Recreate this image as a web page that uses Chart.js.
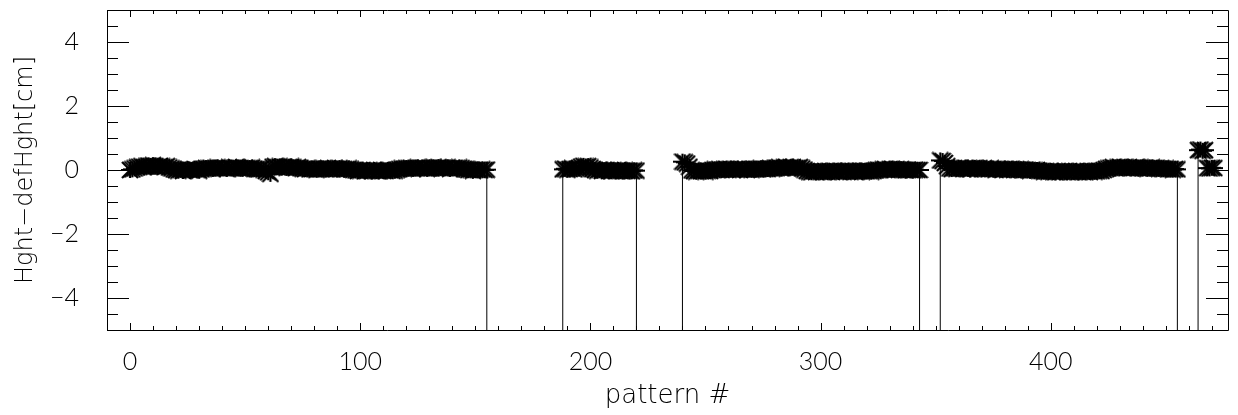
<!DOCTYPE html>
<html>
<head>
<meta charset="utf-8">
<script src="https://cdn.jsdelivr.net/npm/chart.js@4.4.1/dist/chart.umd.min.js"></script>
<style>
  html, body { margin: 0; padding: 0; background: #fff; }
</style>
</head>
<body>
<canvas id="hghtChart" width="1238" height="415" style="width:1238px;height:415px"></canvas>
<script>
// x / y ranges and tick labels
const xRange = [-10, 477];
const yRange = [-5, 5];
const xTickLabels = [0, 100, 200, 300, 400];
const yTickLabels = [-4, -2, 0, 2, 4];
const xMinorStep = 10;
const yMinorStep = 0.5;

const missingVal = -999; // flagged patterns, drawn off the bottom of the plot

// first pattern # of every measured run
const segStarts = [0, 188, 240, 352, 464];

// Hght-defHght [cm] for each run
const seg1 = [
  0.00, 0.02, 0.05, 0.08, 0.10, 0.12, 0.09, 0.11, 0.14, 0.13,
  0.15, 0.12, 0.10, 0.13, 0.11, 0.09, 0.12, 0.08, 0.05, 0.02,
  0.00, -0.02, 0.01, -0.03, 0.00, 0.02, -0.01, 0.00, 0.03, 0.01,
  -0.02, 0.02, 0.04, 0.06, 0.05, 0.07, 0.04, 0.06, 0.08, 0.05,
  0.07, 0.06, 0.04, 0.08, 0.06, 0.05, 0.09, 0.07, 0.06, 0.04,
  0.07, 0.05, 0.06, 0.08, 0.04, 0.03, 0.02, 0.04, 0.01, -0.03,
  -0.07, -0.12, 0.10, 0.12, 0.09, 0.11, 0.08, 0.10, 0.07, 0.09,
  0.11, 0.08, 0.06, 0.09, 0.07, 0.04, 0.03, 0.05, 0.02, 0.04,
  0.03, 0.01, 0.04, 0.02, 0.05, 0.03, 0.06, 0.04, 0.02, 0.05,
  0.03, 0.06, 0.04, 0.02, 0.03, 0.05, 0.02, 0.00, -0.01, -0.03,
  -0.02, 0.00, -0.04, -0.02, -0.01, -0.03, 0.00, -0.02, -0.04, -0.01,
  -0.03, -0.02, 0.00, -0.01, -0.03, -0.02, 0.01, 0.03, 0.05, 0.04,
  0.06, 0.05, 0.07, 0.04, 0.06, 0.08, 0.05, 0.07, 0.06, 0.04,
  0.07, 0.05, 0.08, 0.06, 0.09, 0.07, 0.05, 0.06, 0.08, 0.04,
  0.06, 0.07, 0.05, 0.08, 0.06, 0.04, 0.02, 0.00, 0.01, -0.02,
  0.00, 0.01, -0.01, 0.02, 0.00, 0.01
];
const seg2 = [
  0.02, 0.04, 0.01, 0.03, 0.05, 0.02, 0.04, 0.06, 0.10, 0.13,
  0.11, 0.12, 0.08, 0.03, 0.00, -0.02, 0.01, -0.03, -0.01, 0.00,
  -0.02, -0.04, -0.01, -0.03, 0.00, -0.02, -0.04, -0.01, -0.03, -0.02,
  -0.04, -0.01, -0.02
];
const seg3 = [
  0.26, 0.24, 0.20, 0.10, -0.01, -0.03, -0.05, -0.02, -0.04, -0.03,
  -0.05, -0.02, -0.03, 0.00, 0.02, 0.01, 0.03, 0.00, 0.02, 0.04,
  0.01, 0.03, 0.00, 0.02, 0.04, 0.01, 0.03, 0.02, 0.00, 0.03,
  0.01, 0.04, 0.02, 0.03, 0.05, 0.02, 0.04, 0.03, 0.06, 0.04,
  0.05, 0.07, 0.09, 0.06, 0.08, 0.10, 0.07, 0.09, 0.08, 0.06,
  0.07, 0.09, 0.05, 0.01, -0.03, -0.05, -0.07, -0.04, -0.06, -0.03,
  -0.05, -0.07, -0.04, -0.06, -0.03, -0.05, -0.02, -0.04, -0.06, -0.03,
  -0.05, -0.04, -0.02, -0.05, -0.03, -0.06, -0.04, -0.02, -0.05, -0.03,
  -0.04, -0.02, -0.05, -0.03, -0.01, 0.01, 0.00, 0.02, 0.03, 0.01,
  0.02, 0.04, 0.01, 0.03, 0.00, 0.02, 0.01, -0.01, 0.01, 0.00,
  -0.01, 0.01, 0.00, 0.00
];
const seg4 = [
  0.30, 0.28, 0.22, 0.12, 0.05, 0.03, 0.06, 0.04, 0.07, 0.05,
  0.03, 0.06, 0.04, 0.02, 0.05, 0.07, 0.04, 0.06, 0.03, 0.05,
  0.04, 0.02, 0.05, 0.03, 0.01, 0.04, 0.02, 0.00, 0.03, 0.01,
  0.02, 0.04, 0.01, 0.03, 0.00, 0.02, -0.01, 0.01, 0.00, -0.02,
  0.01, -0.01, 0.00, -0.02, -0.03, -0.05, -0.04, -0.06, -0.03, -0.05,
  -0.07, -0.04, -0.06, -0.05, -0.03, -0.06, -0.04, -0.07, -0.05, -0.03,
  -0.06, -0.04, -0.05, -0.07, -0.04, -0.06, -0.03, -0.05, -0.04, -0.02,
  -0.03, 0.00, 0.03, 0.05, 0.07, 0.09, 0.06, 0.08, 0.10, 0.07,
  0.09, 0.06, 0.08, 0.05, 0.07, 0.09, 0.06, 0.08, 0.05, 0.07,
  0.04, 0.06, 0.08, 0.05, 0.07, 0.04, 0.06, 0.03, 0.05, 0.02,
  0.04, 0.01, 0.03, 0.02
];
const seg5 = [0.62, 0.64, 0.60, 0.62, 0.06, 0.05, 0.07, 0.06];

const segments = [seg1, seg2, seg3, seg4, seg5];

// build the point list; a flagged neighbour on each side of a gap
var points = [];
for (var s = 0; s < segments.length; s++) {
  var start = segStarts[s];
  if (s > 0) points.push({x: start - 1, y: missingVal});
  for (var i = 0; i < segments[s].length; i++) {
    points.push({x: start + i, y: segments[s][i]});
  }
  if (s < segments.length - 1) points.push({x: start + segments[s].length, y: missingVal});
}

// asterisk marker
function makeAsterisk(w, h) {
  var c = document.createElement('canvas');
  c.width = w; c.height = h;
  var g = c.getContext('2d');
  g.strokeStyle = '#000';
  g.lineWidth = 2.2;
  g.beginPath();
  g.moveTo(0, h / 2); g.lineTo(w, h / 2);
  g.moveTo(w / 2, 1); g.lineTo(w / 2, h - 1);
  g.moveTo(1, 1); g.lineTo(w - 1, h - 1);
  g.moveTo(w - 1, 1); g.lineTo(1, h - 1);
  g.stroke();
  return c;
}
const asterisk = makeAsterisk(18, 18);

const labelFont = {family: "Lato, 'DejaVu Sans', sans-serif", size: 25, weight: 300};
const titleFont = {family: "'DejaVu Sans', sans-serif", size: 24, weight: 200};

function minusLabel(v) {
  return v < 0 ? '\u2212' + Math.abs(v) : String(v);
}

// box with inward IDL style ticks
const idlAxes = {
  id: 'idlAxes',
  afterDraw(chart) {
    var ctx = chart.ctx, a = chart.chartArea;
    var xs = chart.scales.x, ys = chart.scales.y;
    ctx.save();
    ctx.strokeStyle = '#000';
    ctx.lineWidth = 1;
    ctx.beginPath();
    ctx.rect(Math.round(a.left) + 0.5, Math.round(a.top) + 0.5,
             Math.round(a.right - a.left), Math.round(a.bottom - a.top));
    // x ticks, bottom and top
    for (var v = xRange[0]; v <= xRange[1]; v += xMinorStep) {
      var px = Math.round(xs.getPixelForValue(v)) + 0.5;
      var len = xTickLabels.indexOf(v) >= 0 ? 7 : 4;
      ctx.moveTo(px, a.bottom); ctx.lineTo(px, a.bottom - len);
      ctx.moveTo(px, a.top); ctx.lineTo(px, a.top + len);
    }
    // y ticks, left and right
    for (var k = 0; k <= (yRange[1] - yRange[0]) / yMinorStep; k++) {
      var yv = yRange[0] + k * yMinorStep;
      var py = Math.round(ys.getPixelForValue(yv)) + 0.5;
      var ylen = yTickLabels.indexOf(yv) >= 0 ? 22 : 11;
      ctx.moveTo(a.left, py); ctx.lineTo(a.left + ylen, py);
      ctx.moveTo(a.right, py); ctx.lineTo(a.right - ylen, py);
    }
    ctx.stroke();
    ctx.restore();
  }
};

new Chart(document.getElementById('hghtChart'), {
  type: 'line',
  data: {
    datasets: [{
      data: points,
      borderColor: '#000',
      borderWidth: 1,
      pointStyle: asterisk,
      pointRadius: 9,
      pointBorderColor: '#000',
      fill: false,
      tension: 0
    }]
  },
  options: {
    responsive: false,
    devicePixelRatio: 1,
    animation: false,
    layout: {padding: {top: 10, right: 6, left: 0, bottom: 0}},
    plugins: {legend: {display: false}, tooltip: {enabled: false}},
    scales: {
      x: {
        type: 'linear',
        min: xRange[0], max: xRange[1],
        grid: {display: false},
        border: {display: false},
        afterBuildTicks: function(s) { s.ticks = xTickLabels.map(function(v) { return {value: v}; }); },
        afterFit: function(s) { s.height = 85; s.paddingLeft = 0; s.paddingRight = 0; },
        ticks: {color: '#000', font: labelFont, padding: 9, maxRotation: 0, autoSkip: false},
        title: {display: true, text: 'pattern #', color: '#000', font: {family: titleFont.family, size: 26, weight: 200}, padding: {top: 0, bottom: 3}}
      },
      y: {
        min: yRange[0], max: yRange[1],
        grid: {display: false},
        border: {display: false},
        afterBuildTicks: function(s) { s.ticks = yTickLabels.map(function(v) { return {value: v}; }); },
        afterFit: function(s) { s.width = 107; s.paddingTop = 0; s.paddingBottom = 0; },
        ticks: {color: '#000', font: labelFont, padding: 20, callback: minusLabel},
        title: {display: true, text: 'Hght\u2212defHght[cm]', color: '#000', font: titleFont, padding: {top: 11, bottom: 0}}
      }
    }
  },
  plugins: [idlAxes]
});
</script>
</body>
</html>
